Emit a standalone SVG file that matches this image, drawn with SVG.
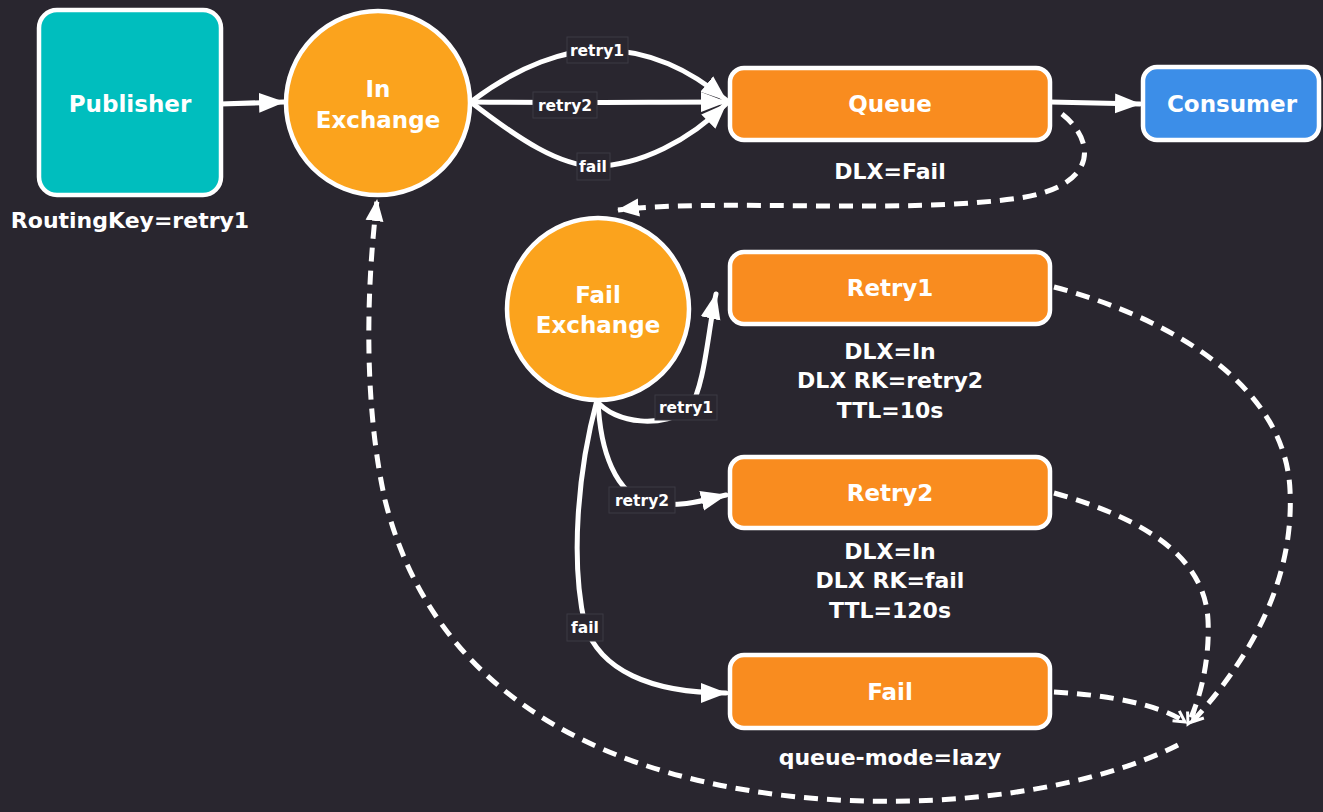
<svg xmlns="http://www.w3.org/2000/svg" width="1323" height="812" viewBox="0 0 1323 812">
<style>
.t{font-family:"DejaVu Sans","Liberation Sans",sans-serif;font-weight:bold;fill:#fff;text-anchor:middle}
.nl{font-size:23px}
.sl{font-size:22px}
.el{font-size:15.5px}
.node{stroke:#fff;stroke-width:4.5}
.lb{fill:#29262f;stroke:#3d3a45;stroke-width:1}
.c{fill:none;stroke:#fff;stroke-width:5;stroke-linecap:round}
.d{fill:none;stroke:#fff;stroke-width:5;stroke-dasharray:14 9}
</style>
<defs>
<marker id="a" markerUnits="userSpaceOnUse" markerWidth="28" markerHeight="24" refX="25" refY="12" orient="auto"><path d="M0,2 L26,12 L0,22 z" fill="#fff"/></marker>
<marker id="ad" markerUnits="userSpaceOnUse" markerWidth="24" markerHeight="20" refX="21" refY="10" orient="auto"><path d="M0,1 L22,10 L0,19 z" fill="#fff"/></marker>
<marker id="v" markerUnits="userSpaceOnUse" markerWidth="16" markerHeight="16" refX="13" refY="8" orient="auto"><path d="M2,2 L13,8 L2,14" fill="none" stroke="#fff" stroke-width="3"/></marker>
</defs>
<rect width="1323" height="812" fill="#29262f"/>

<g id="connectors">
<path class="c" d="M220,104 L284,102" marker-end="url(#a)"/>
<path class="c" d="M472,101 C520,65 565,50 600,50 C650,50 690,70 726,100" marker-end="url(#a)"/>
<path class="c" d="M472,102 C560,103 650,102 726,102" marker-end="url(#a)"/>
<path class="c" d="M472,103 C520,140 560,166 595,166 C640,166 690,140 726,104" marker-end="url(#a)"/>
<path class="c" d="M1050,102 L1140,104" marker-end="url(#a)"/>
<path class="c" d="M596,400 C615,425 665,428 690,408 C705,385 708,330 716,294" marker-end="url(#a)"/>
<path class="c" d="M598,400 C600,450 615,495 650,503 C680,508 705,500 726,495" marker-end="url(#a)"/>
<path class="c" d="M597,400 C578,470 570,560 585,625 C600,670 650,693 726,693" marker-end="url(#a)"/>
<path class="d" d="M1062,114 C1095,140 1100,185 1020,198 C900,215 720,198 618,210" marker-end="url(#ad)"/>
<path class="d" d="M1054,287 C1160,315 1285,380 1290,490 C1295,590 1240,670 1192,722" marker-end="url(#v)"/>
<path class="d" d="M1054,493 C1150,520 1205,560 1208,620 C1210,660 1200,700 1188,724" marker-end="url(#v)"/>
<path class="d" d="M1054,692 C1110,695 1160,705 1185,722" marker-end="url(#v)"/>
<path class="d" d="M1178,745 C1100,785 950,815 780,795 C580,770 430,680 385,500 C365,410 365,300 377,200" marker-end="url(#ad)"/>
<g id="edge-labels">
<rect class="lb" x="567" y="37" width="61" height="26"/><text class="t el" x="597" y="56">retry1</text>
<rect class="lb" x="533" y="92" width="64" height="26"/><text class="t el" x="565" y="111">retry2</text>
<rect class="lb" x="577" y="153" width="33" height="27"/><text class="t el" x="593" y="172">fail</text>
<rect class="lb" x="655" y="395" width="62" height="25"/><text class="t el" x="686" y="413">retry1</text>
<rect class="lb" x="609" y="487" width="66" height="26"/><text class="t el" x="642" y="506">retry2</text>
<rect class="lb" x="567" y="614" width="36" height="27"/><text class="t el" x="585" y="633">fail</text>
</g>
</g>

<g id="publisher">
<rect class="node" x="39" y="10" width="182" height="185" rx="18" fill="#00bebe"/>
<text class="t nl" x="130" y="112">Publisher</text>
<text class="t sl" x="130" y="228">RoutingKey=retry1</text>
</g>
<g id="in-exchange">
<circle class="node" cx="378" cy="103" r="92" fill="#fba31d"/>
<text class="t nl" x="378" y="97">In</text>
<text class="t nl" x="378" y="128">Exchange</text>
</g>
<g id="queue">
<rect class="node" x="730" y="68" width="320" height="72" rx="14" fill="#f98c1f"/>
<text class="t nl" x="890" y="112">Queue</text>
<text class="t sl" x="890" y="179">DLX=Fail</text>
</g>
<g id="consumer">
<rect class="node" x="1143" y="67" width="176" height="73" rx="14" fill="#3c8ee8"/>
<text class="t nl" x="1232" y="112">Consumer</text>
</g>
<g id="fail-exchange">
<circle class="node" cx="598" cy="309" r="91" fill="#fba31d"/>
<text class="t nl" x="598" y="303">Fail</text>
<text class="t nl" x="598" y="333">Exchange</text>
</g>
<g id="retry1">
<rect class="node" x="730" y="252" width="320" height="72" rx="14" fill="#f98c1f"/>
<text class="t nl" x="890" y="296">Retry1</text>
<text class="t sl" x="890" y="359">DLX=In</text>
<text class="t sl" x="890" y="388">DLX RK=retry2</text>
<text class="t sl" x="890" y="418">TTL=10s</text>
</g>
<g id="retry2">
<rect class="node" x="730" y="457" width="320" height="71" rx="14" fill="#f98c1f"/>
<text class="t nl" x="890" y="501">Retry2</text>
<text class="t sl" x="890" y="559">DLX=In</text>
<text class="t sl" x="890" y="588">DLX RK=fail</text>
<text class="t sl" x="890" y="618">TTL=120s</text>
</g>
<g id="fail">
<rect class="node" x="730" y="655" width="320" height="73" rx="14" fill="#f98c1f"/>
<text class="t nl" x="890" y="700">Fail</text>
<text class="t sl" x="890" y="765">queue-mode=lazy</text>
</g>
</svg>
